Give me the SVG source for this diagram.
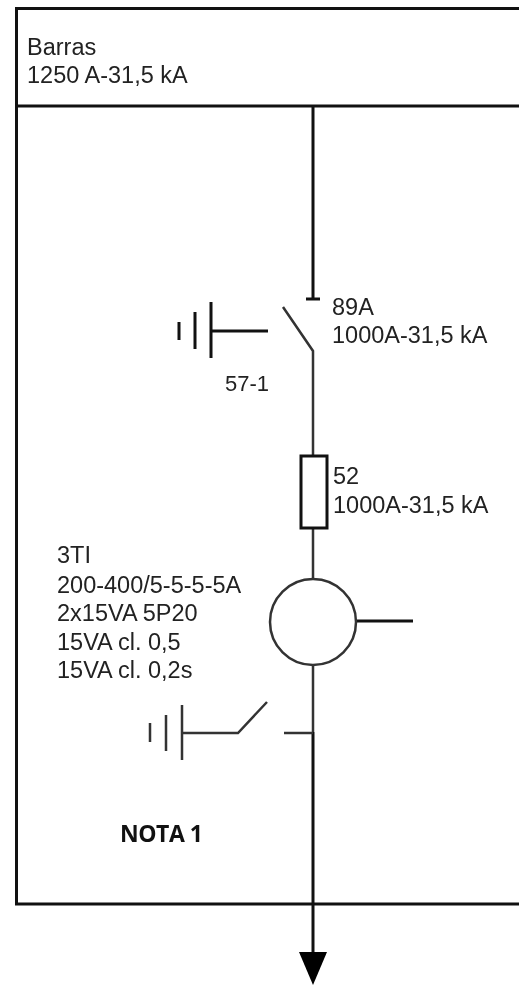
<svg xmlns="http://www.w3.org/2000/svg" width="519" height="985" viewBox="0 0 519 985">
<defs><filter id="soft" filterUnits="userSpaceOnUse" x="0" y="0" width="519" height="985" color-interpolation-filters="sRGB"><feGaussianBlur stdDeviation="0.5"/></filter></defs>
<style>
.l{fill:none;stroke:#111;stroke-width:3}
.g{stroke:#333;stroke-width:2.5}
text{font-family:"Liberation Sans",Arial,sans-serif;font-size:23.5px;fill:#222}
.n{font-family:"Open Sans","Liberation Sans",sans-serif;font-size:23px;font-weight:bold;fill:#111}
</style>
<rect width="519" height="985" fill="#fff"/>
<g filter="url(#soft)">
<g id="panel"><path class="l" d="M519 8.500H16.500V904H519"/><path class="l" d="M16.500 106H519"/></g>
<g id="connectors">
<path class="l" d="M313 106V299M306 299H320"/>
<path class="l g" d="M283 307L313 351V456"/>
<path class="l g" d="M313 528V579M313 665V732"/>
<path class="l" d="M313 732V966"/>
<path class="l g" d="M284 733H313"/>
<path class="l" d="M356 621H413"/>
</g>
<g id="barras"><text x="27" y="55">Barras</text><text x="27" y="83">1250 A-31,5 kA</text></g>
<g id="s89A"><text x="332" y="315">89A</text><text x="332" y="343">1000A-31,5 kA</text></g>
<g id="s57-1">
<path class="l" d="M179 322V340M195 312V349M211 302V358M211 331H268"/>
<text x="225" y="391" font-size="22" style="font-size:22px">57-1</text>
</g>
<g id="b52"><rect class="l" x="301" y="456" width="26" height="72" fill="#fff"/><text x="333" y="484">52</text><text x="333" y="513">1000A-31,5 kA</text></g>
<g id="ti"><circle class="l g" cx="313" cy="622" r="43"/>
<text x="57" y="563">3TI</text><text x="57" y="593">200-400/5-5-5-5A</text><text x="57" y="621">2x15VA 5P20</text><text x="57" y="650">15VA cl. 0,5</text><text x="57" y="678">15VA cl. 0,2s</text></g>
<g id="s-earth"><path class="l g" d="M150 723V742M166 715V751M182 705V760M182 733H238L267 702"/></g>
<g id="nota"><text class="n" x="120" y="842" textLength="83">NOTA 1</text></g>
<g id="arrow"><path d="M299 952H327L313 985Z" fill="#000"/></g>
</g>
</svg>
